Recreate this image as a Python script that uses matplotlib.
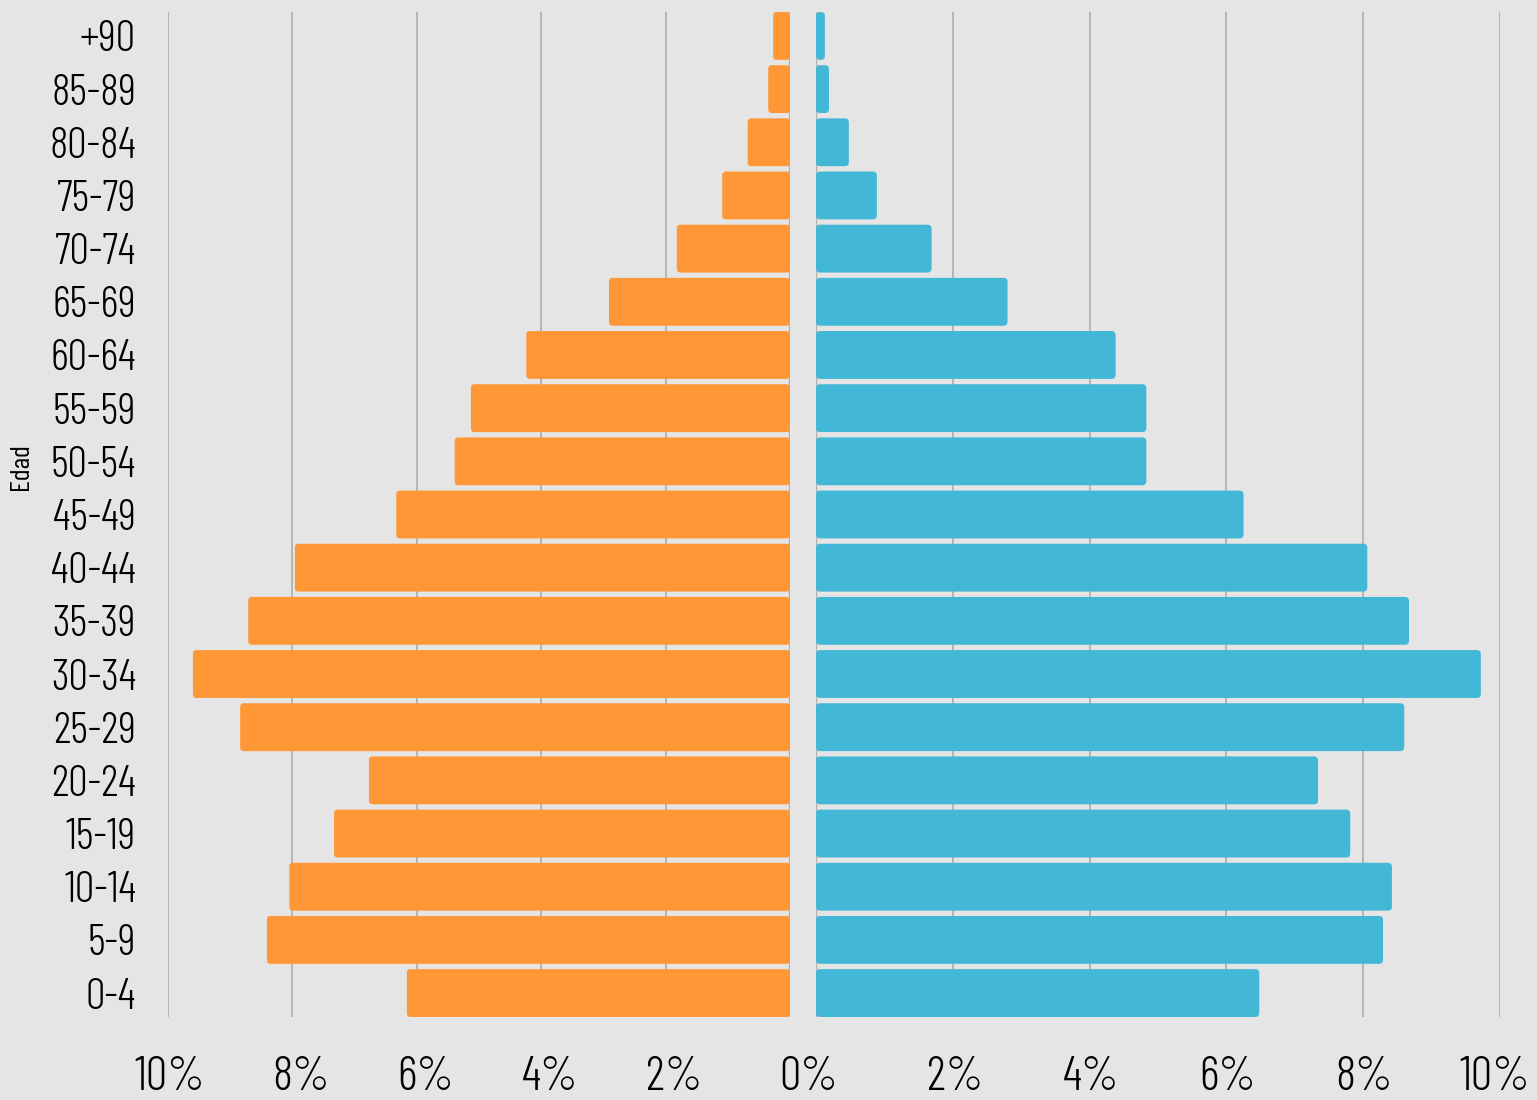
import matplotlib
matplotlib.use('Agg')
import matplotlib.pyplot as plt
from matplotlib.patches import FancyBboxPatch
from matplotlib.transforms import ScaledTranslation

plt.rcParams['font.family'] = ['Barlow Condensed', 'Roboto Condensed', 'IBM Plex Sans Condensed', 'DejaVu Sans']
plt.rcParams['font.weight'] = 300

ages = ['0-4', '5-9', '10-14', '15-19', '20-24', '25-29', '30-34', '35-39', '40-44',
        '45-49', '50-54', '55-59', '60-64', '65-69', '70-74', '75-79', '80-84', '85-89', '+90']
mujeres = [6.16, 8.41, 8.05, 7.33, 6.77, 8.84, 9.60, 8.71, 7.96,
           6.33, 5.39, 5.13, 4.24, 2.91, 1.82, 1.09, 0.68, 0.35, 0.27]
hombres = [6.48, 8.29, 8.42, 7.81, 7.34, 8.60, 9.72, 8.67, 8.06,
           6.25, 4.83, 4.83, 4.38, 2.80, 1.69, 0.89, 0.48, 0.19, 0.13]
ticks = [0, 2, 4, 6, 8, 10]

BG = '#e5e5e5'
ORANGE = '#ff9736'
BLUE = '#42b7d6'
H = 0.9

fig = plt.figure(figsize=(15.37, 11), dpi=100, facecolor=BG)
ax1 = fig.add_axes([168/1537, 1 - 1017/1100, 622/1537, 1005/1100])
ax2 = fig.add_axes([816/1537, 1 - 1017/1100, 684/1537, 1005/1100])


def rounded_bars(ax, vals, color, aspect):
    for i, v in enumerate(vals):
        p = FancyBboxPatch((0, i - H/2), v, H,
                           boxstyle='round,pad=0,rounding_size=0.06',
                           mutation_aspect=aspect,
                           fc=color, ec='none', zorder=3)
        ax.add_patch(p)


# px per unit: x ~62 (left) / ~68 (right), y ~53
rounded_bars(ax1, mujeres, ORANGE, 62.2/53.2)
rounded_bars(ax2, hombres, BLUE, 68.4/53.2)

for ax in (ax1, ax2):
    ax.set_facecolor(BG)
    ax.set_xlim(0, 10)
    ax.set_ylim(-0.45, len(ages) - 0.55)
    ax.set_xticks(ticks)
    ax.grid(axis='x', color='#b4b4b4', lw=1.4, zorder=0)
    ax.axvline(0, color='#777777', lw=1.6, zorder=1)
    for s in ax.spines.values():
        s.set_visible(False)
    ax.tick_params(axis='x', length=0, pad=28, labelsize=34.5)

ax1.invert_xaxis()
ax1.set_xticklabels([''] + [f'{t}%' for t in ticks[1:]])
ax2.set_xticklabels([f'{t}%' for t in ticks])

# labels sit right-aligned, a little to the right of each gridline
for lbl in ax1.get_xticklabels():
    lbl.set_ha('right')
    lbl.set_transform(lbl.get_transform() + ScaledTranslation(0.37, 0, fig.dpi_scale_trans))
for i, lbl in enumerate(ax2.get_xticklabels()):
    lbl.set_ha('right')
    off = 0.22 if i == 0 else 0.30
    lbl.set_transform(lbl.get_transform() + ScaledTranslation(off, 0, fig.dpi_scale_trans))

ax1.set_yticks(range(len(ages)))
ax1.set_yticklabels(ages)
ax1.tick_params(axis='y', length=0, pad=23, labelsize=31.5)
ax1.set_ylabel('Edad', fontsize=20)
ax1.yaxis.set_label_coords(-0.217, 0.548)
ax2.set_yticks([])

fig.savefig('out.png', dpi=100, facecolor=BG)
